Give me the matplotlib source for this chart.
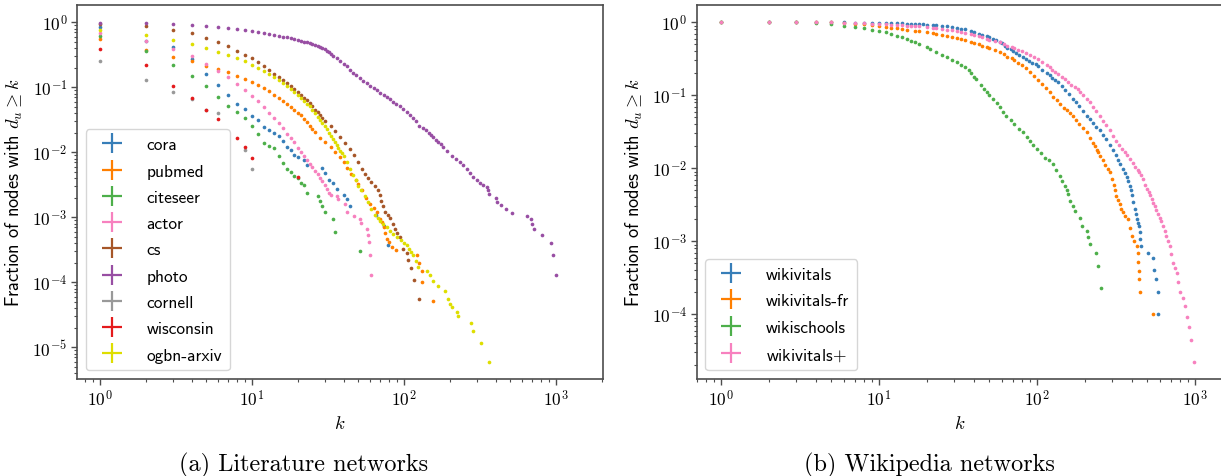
import matplotlib
matplotlib.use('Agg')
import matplotlib.pyplot as plt
from matplotlib.lines import Line2D
from matplotlib.ticker import FuncFormatter, LogLocator, NullFormatter
import numpy as np

plt.rcParams['mathtext.fontset'] = 'cm'
plt.rcParams['axes.unicode_minus'] = False

# ---------------- Literature networks ----------------
lit_names = ['cora', 'pubmed', 'citeseer', 'actor', 'cs', 'photo', 'cornell', 'wisconsin', 'ogbn-arxiv']
lit_colors = ['#377eb8', '#ff7f00', '#4daf4a', '#f781bf', '#a65628', '#984ea3', '#999999', '#e41a1c', '#dede00']

cora_k = [1, 2, 3, 4, 5, 6, 7, 8, 9, 10, 11, 12, 13, 14, 15, 16, 17, 18, 19, 20, 22, 23, 29, 30, 32, 34, 36, 40, 42, 44, 65, 74, 78]
cora_f = [0.85, 0.51, 0.417, 0.27, 0.158, 0.108, 0.077, 0.056, 0.0464, 0.0366, 0.031, 0.0244, 0.0224, 0.0200, 0.0179, 0.015, 0.0121, 0.0110, 0.0092, 0.0084, 0.0076, 0.0064, 0.0057, 0.0048, 0.0038, 0.0034, 0.0027, 0.0022, 0.0019, 0.0015, 0.0011, 0.00074, 0.00037]

pubmed_k = [1, 2, 3, 4, 5, 6, 7, 8, 9, 10, 11, 12, 13, 14, 15, 16, 17, 18, 19, 20, 21, 22, 23, 24, 25, 26, 28, 30, 33, 35, 38, 40, 42, 45, 48, 50, 53, 56, 60, 63, 66, 70, 72, 74, 75, 77, 80, 83, 88, 121, 126, 131, 132, 154]
pubmed_f = [0.55, 0.38, 0.296, 0.25, 0.215, 0.19, 0.17, 0.147, 0.134, 0.122, 0.108, 0.098, 0.087, 0.077, 0.069, 0.062, 0.055, 0.05, 0.045, 0.04, 0.037, 0.0326, 0.029, 0.0257, 0.0229, 0.0203, 0.0168, 0.0142, 0.012, 0.0100, 0.0084, 0.0071, 0.0058, 0.0046, 0.0037, 0.0032, 0.0026, 0.0020, 0.0016, 0.0014, 0.0012, 0.00095, 0.00085, 0.00072, 0.00057, 0.00046, 0.00041, 0.00035, 0.00031, 0.00026, 0.0002, 0.000151, 0.0001, 0.0000508]

citeseer_k = [1, 2, 3, 4, 5, 6, 7, 8, 9, 10, 11, 12, 13, 14, 15, 16, 17, 18, 19, 20, 21, 22, 23, 27, 28, 29, 30, 34, 35, 51]
citeseer_f = [0.61, 0.36, 0.22, 0.148, 0.104, 0.071, 0.052, 0.041, 0.0335, 0.025, 0.019, 0.0138, 0.0126, 0.0117, 0.0089, 0.0068, 0.0055, 0.0049, 0.0043, 0.0040, 0.0034, 0.0031, 0.0024, 0.0021, 0.0018, 0.0015, 0.0012, 0.00093, 0.0006, 0.0003]

actor_k = [1, 2, 3, 4, 5, 6, 7, 8, 9, 10, 11, 12, 13, 14, 15, 16, 17, 18, 19, 20, 21, 22, 23, 24, 25, 26, 27, 28, 29, 30, 31, 32, 33, 36, 37, 41, 42, 47, 51, 52, 57, 58, 59, 60, 61]
actor_f = [0.68, 0.51, 0.388, 0.30, 0.232, 0.18, 0.143, 0.111, 0.09, 0.074, 0.0605, 0.0495, 0.0405, 0.0335, 0.028, 0.0234, 0.0194, 0.0164, 0.0145, 0.0118, 0.0102, 0.0089, 0.0077, 0.0066, 0.0059, 0.0052, 0.0047, 0.0040, 0.0036, 0.0031, 0.0027, 0.0024, 0.0022, 0.0021, 0.0019, 0.0016, 0.0012, 0.00105, 0.00095, 0.00081, 0.00065, 0.00053, 0.00041, 0.00026, 0.00013]

cs_k = [1, 2, 3, 4, 5, 6, 7, 8, 9, 10, 11, 12, 13, 14, 15, 16, 17, 18, 19, 20, 21, 22, 23, 24, 25, 26, 27, 28, 29, 30, 33, 35, 38, 41, 44, 47, 50, 53, 55, 58, 61, 64, 67, 69, 71, 73, 75, 78, 81, 84, 87, 90, 94, 99, 105, 107, 112, 117, 125]
cs_f = [0.95, 0.88, 0.77, 0.68, 0.58, 0.50, 0.427, 0.366, 0.318, 0.283, 0.242, 0.213, 0.187, 0.162, 0.144, 0.128, 0.115, 0.106, 0.094, 0.086, 0.077, 0.069, 0.063, 0.0574, 0.051, 0.045, 0.041, 0.0375, 0.034, 0.0306, 0.0257, 0.0213, 0.017, 0.0139, 0.0112, 0.0092, 0.0072, 0.0056, 0.0047, 0.0040, 0.0035, 0.0030, 0.0026, 0.0022, 0.0018, 0.0015, 0.0012, 0.0011, 0.00098, 0.0008, 0.00066, 0.00057, 0.00049, 0.00033, 0.00028, 0.000224, 0.000166, 0.00011, 0.000055]

photo_k = [1, 2, 3, 4, 5, 6, 7, 8, 9, 10, 11, 12, 13, 14, 15, 16, 17, 18, 19, 20, 21, 22, 23, 24, 25, 26, 27, 28, 29, 30, 31, 32, 33, 34, 36, 38, 40, 42, 44, 46, 48, 51, 54, 57, 60, 63, 66, 70, 74, 77, 81, 85, 89, 94, 99, 104, 109, 115, 120, 126, 134, 140, 145, 150, 156, 162, 168, 174, 181, 193, 206, 220, 234, 245, 258, 270, 286, 300, 316, 330, 350, 357, 364, 401, 411, 435, 467, 516, 645, 688, 699, 716, 805, 927, 955, 995]
photo_f = [0.98, 0.97, 0.93, 0.91, 0.877, 0.85, 0.817, 0.79, 0.76, 0.735, 0.71, 0.685, 0.667, 0.645, 0.62, 0.60, 0.588, 0.574, 0.553, 0.54, 0.52, 0.503, 0.49, 0.475, 0.46, 0.443, 0.43, 0.412, 0.40, 0.385, 0.366, 0.345, 0.325, 0.307, 0.28, 0.257, 0.232, 0.21, 0.187, 0.166, 0.155, 0.137, 0.126, 0.116, 0.106, 0.098, 0.09, 0.082, 0.076, 0.070, 0.065, 0.060, 0.056, 0.052, 0.047, 0.042, 0.038, 0.0333, 0.030, 0.0257, 0.0234, 0.0217, 0.020, 0.0185, 0.017, 0.0157, 0.0145, 0.0132, 0.012, 0.0105, 0.0089, 0.008, 0.0072, 0.0063, 0.0055, 0.0048, 0.0042, 0.0038, 0.0034, 0.0031, 0.0029, 0.0026, 0.0023, 0.00199, 0.00173, 0.00152, 0.00133, 0.00118, 0.00105, 0.00093, 0.00079, 0.00066, 0.00053, 0.0004, 0.00026, 0.000131]

cornell_k = [1, 2, 3, 4, 5, 6, 9, 10]
cornell_f = [0.25, 0.129, 0.085, 0.066, 0.045, 0.040, 0.011, 0.0056]

wisconsin_k = [1, 2, 3, 4, 5, 6, 8, 9, 10, 20]
wisconsin_f = [0.39, 0.218, 0.106, 0.068, 0.045, 0.033, 0.0164, 0.0122, 0.0082, 0.0041]

arxiv_k = [1, 2, 3, 4, 5, 6, 7, 8, 9, 10, 11, 12, 13, 14, 15, 16, 17, 18, 19, 20, 21, 22, 23, 24, 25, 26, 27, 28, 29, 30, 31, 32, 33, 34, 35, 36, 37, 38, 39, 40, 42, 44, 46, 48, 50, 52, 55, 58, 61, 64, 67, 70, 73, 77, 81, 85, 90, 95, 100, 104, 108, 112, 115, 120, 124, 141, 148, 156, 168, 186, 195, 202, 206, 222, 226, 275, 286, 323, 364]
arxiv_f = [0.76, 0.63, 0.53, 0.46, 0.40, 0.353, 0.31, 0.279, 0.25, 0.223, 0.2, 0.18, 0.16, 0.146, 0.13, 0.116, 0.105, 0.094, 0.084, 0.076, 0.068, 0.062, 0.056, 0.051, 0.045, 0.040, 0.035, 0.031, 0.028, 0.025, 0.0229, 0.020, 0.018, 0.0162, 0.0145, 0.013, 0.0118, 0.0106, 0.0096, 0.0087, 0.0071, 0.0055, 0.0045, 0.0037, 0.0030, 0.0026, 0.0021, 0.0017, 0.00134, 0.0011, 0.00098, 0.00088, 0.00080, 0.00070, 0.00061, 0.00055, 0.00050, 0.00045, 0.0004, 0.00037, 0.00033, 0.00029, 0.00026, 0.00021, 0.00017, 0.000151, 0.00013, 0.000106, 0.000087, 0.000074, 0.000055, 0.0000466, 0.0000414, 0.0000354, 0.00003, 0.0000237, 0.0000178, 0.0000118, 0.000006]

lit_k = [cora_k, pubmed_k, citeseer_k, actor_k, cs_k, photo_k, cornell_k, wisconsin_k, arxiv_k]
lit_f = [cora_f, pubmed_f, citeseer_f, actor_f, cs_f, photo_f, cornell_f, wisconsin_f, arxiv_f]

# ---------------- Wikipedia networks ----------------
wiki_names = ['wikivitals', 'wikivitals-fr', 'wikischools', r'wikivitals$+$']
wiki_colors = ['#377eb8', '#ff7f00', '#4daf4a', '#f781bf']

wv_k = [1, 2, 3, 4, 5, 6, 7, 8, 9, 10, 11, 12, 13, 14, 15, 16, 17, 18, 19, 20, 22, 23, 25, 27, 29, 31, 33, 35, 38, 40, 43, 45, 48, 50, 53, 55, 58, 60, 63, 65, 68, 70, 74, 77, 81, 85, 89, 93, 98, 102, 108, 115, 120, 125, 130, 136, 143, 150, 160, 169, 177, 185, 195, 206, 215, 225, 238, 251, 263, 275, 290, 303, 315, 325, 337, 350, 360, 370, 378, 386, 393, 400, 408, 417, 423, 429, 436, 442, 450, 451, 452, 502, 543, 550, 569, 580, 585]
wv_f = [1.0, 1.0, 1.0, 0.999, 0.998, 0.996, 0.993, 0.99, 0.987, 0.983, 0.979, 0.975, 0.97, 0.965, 0.96, 0.955, 0.95, 0.945, 0.938, 0.93, 0.92, 0.91, 0.895, 0.88, 0.862, 0.845, 0.822, 0.80, 0.77, 0.74, 0.70, 0.68, 0.645, 0.62, 0.59, 0.57, 0.54, 0.52, 0.48, 0.45, 0.43, 0.41, 0.38, 0.36, 0.335, 0.31, 0.295, 0.28, 0.265, 0.25, 0.225, 0.20, 0.187, 0.175, 0.162, 0.15, 0.135, 0.12, 0.104, 0.09, 0.081, 0.072, 0.061, 0.052, 0.047, 0.042, 0.037, 0.033, 0.029, 0.025, 0.021, 0.018, 0.015, 0.013, 0.0115, 0.0098, 0.0086, 0.0075, 0.0066, 0.0058, 0.005, 0.0043, 0.0035, 0.0028, 0.0024, 0.002, 0.0018, 0.00163, 0.00133, 0.00108, 0.00085, 0.0007, 0.0006, 0.0004, 0.000306, 0.0002, 0.0001]

wvfr_k = [1, 2, 3, 4, 5, 6, 7, 8, 9, 10, 11, 12, 13, 14, 15, 17, 18, 20, 22, 23, 25, 27, 29, 31, 33, 35, 38, 40, 43, 45, 48, 50, 54, 58, 62, 65, 69, 72, 76, 80, 85, 90, 96, 102, 108, 114, 120, 126, 133, 140, 148, 155, 162, 169, 177, 185, 195, 206, 215, 225, 233, 240, 245, 251, 260, 270, 280, 290, 298, 305, 311, 317, 325, 335, 342, 350, 363, 377, 386, 400, 413, 427, 433, 436, 440, 442, 448, 543]
wvfr_f = [1.0, 1.0, 1.0, 1.0, 0.999, 0.98, 0.96, 0.935, 0.905, 0.88, 0.862, 0.845, 0.828, 0.81, 0.795, 0.77, 0.758, 0.735, 0.715, 0.70, 0.678, 0.655, 0.632, 0.61, 0.59, 0.57, 0.545, 0.52, 0.50, 0.48, 0.46, 0.44, 0.415, 0.39, 0.365, 0.34, 0.32, 0.30, 0.28, 0.26, 0.235, 0.21, 0.185, 0.16, 0.142, 0.125, 0.11, 0.095, 0.085, 0.075, 0.068, 0.062, 0.057, 0.052, 0.046, 0.041, 0.036, 0.031, 0.026, 0.022, 0.02, 0.018, 0.0165, 0.0149, 0.0128, 0.011, 0.0098, 0.0088, 0.0072, 0.006, 0.005, 0.0042, 0.0037, 0.0032, 0.0028, 0.0025, 0.0022, 0.002, 0.0015, 0.0012, 0.00101, 0.00085, 0.00069, 0.00052, 0.00039, 0.000306, 0.0002, 0.0001]

ws_k = [1, 2, 3, 4, 5, 6, 7, 8, 9, 10, 11, 12, 13, 14, 15, 16, 17, 18, 20, 21, 23, 25, 27, 29, 31, 33, 35, 37, 38, 40, 41, 44, 46, 48, 50, 53, 56, 58, 61, 64, 68, 72, 77, 82, 86, 90, 95, 100, 106, 112, 119, 126, 132, 139, 145, 151, 155, 158, 162, 168, 174, 187, 192, 207, 211, 216, 235, 244, 254]
ws_f = [1.0, 1.0, 1.0, 0.98, 0.95, 0.90, 0.86, 0.83, 0.785, 0.75, 0.73, 0.69, 0.655, 0.625, 0.59, 0.56, 0.53, 0.505, 0.455, 0.435, 0.39, 0.36, 0.33, 0.305, 0.285, 0.262, 0.242, 0.22, 0.20, 0.18, 0.167, 0.14, 0.122, 0.11, 0.10, 0.089, 0.078, 0.07, 0.06, 0.052, 0.046, 0.04, 0.035, 0.031, 0.027, 0.024, 0.021, 0.0182, 0.016, 0.014, 0.0128, 0.0115, 0.0095, 0.0079, 0.0068, 0.0057, 0.0050, 0.0044, 0.0036, 0.003, 0.0026, 0.0021, 0.0016, 0.00139, 0.00115, 0.00093, 0.00069, 0.00046, 0.000228]

wvp_k = [1, 2, 3, 4, 5, 6, 7, 8, 9, 10, 11, 12, 13, 14, 15, 16, 17, 18, 20, 22, 23, 25, 27, 29, 31, 33, 35, 38, 40, 43, 45, 48, 50, 54, 58, 62, 65, 69, 72, 76, 80, 85, 90, 96, 102, 108, 115, 120, 125, 130, 136, 143, 150, 158, 165, 173, 181, 188, 195, 206, 215, 225, 238, 251, 263, 275, 290, 303, 317, 330, 345, 360, 373, 386, 403, 420, 433, 445, 458, 470, 485, 500, 510, 520, 532, 543, 556, 570, 585, 600, 613, 627, 643, 660, 677, 694, 710, 727, 745, 764, 781, 803, 844, 870, 896, 917, 942, 983]
wvp_f = [1.0, 1.0, 1.0, 1.0, 0.999, 0.99, 0.985, 0.975, 0.96, 0.94, 0.935, 0.925, 0.918, 0.91, 0.903, 0.896, 0.89, 0.88, 0.86, 0.845, 0.83, 0.81, 0.79, 0.775, 0.76, 0.74, 0.72, 0.69, 0.67, 0.645, 0.62, 0.60, 0.58, 0.555, 0.53, 0.50, 0.48, 0.46, 0.44, 0.42, 0.40, 0.377, 0.355, 0.335, 0.314, 0.29, 0.26, 0.243, 0.225, 0.21, 0.196, 0.18, 0.165, 0.152, 0.14, 0.13, 0.122, 0.11, 0.10, 0.089, 0.08, 0.07, 0.061, 0.052, 0.045, 0.039, 0.033, 0.028, 0.024, 0.021, 0.0185, 0.0165, 0.015, 0.0134, 0.012, 0.0105, 0.0096, 0.0088, 0.008, 0.0071, 0.006, 0.0052, 0.0047, 0.0043, 0.0038, 0.0034, 0.003, 0.0027, 0.0024, 0.0021, 0.0019, 0.00163, 0.0014, 0.0012, 0.001, 0.00085, 0.00068, 0.00051, 0.00043, 0.00037, 0.00028, 0.0002, 0.000169, 0.000131, 0.0000925, 0.0000663, 0.0000447, 0.0000221]

wiki_k = [wv_k, wvfr_k, ws_k, wvp_k]
wiki_f = [wv_f, wvfr_f, ws_f, wvp_f]

# ---------------- figure ----------------
W, H = 1221, 477
fig = plt.figure(figsize=(W / 100, H / 100), dpi=100)


def box(x0, y0, x1, y1):
    return [x0 / W, 1 - y1 / H, (x1 - x0) / W, (y1 - y0) / H]


ax1 = fig.add_axes(box(77, 6, 603, 380))
ax2 = fig.add_axes(box(696.5, 6, 1222.5, 380))

spine_col = '#4d4d4d'


def style(ax):
    ax.set_xscale('log')
    ax.set_yscale('log')
    for s in ax.spines.values():
        s.set_color(spine_col)
        s.set_linewidth(1.2)
    fmt = FuncFormatter(lambda v, p: r'$10^{%d}$' % int(round(np.log10(v))))
    for axis in (ax.xaxis, ax.yaxis):
        axis.set_major_locator(LogLocator(base=10, numticks=30))
        axis.set_minor_locator(LogLocator(base=10, subs=np.arange(2, 10), numticks=30))
        axis.set_major_formatter(fmt)
        axis.set_minor_formatter(NullFormatter())
    ax.tick_params(which='major', length=4, width=1.0, color=spine_col, labelsize=12.5, pad=3)
    ax.tick_params(which='minor', length=2.2, width=0.8, color=spine_col)
    ax.set_xlabel(r'$k$', fontsize=13.5, labelpad=3)
    ax.set_ylabel(r'Fraction of nodes with $d_u \geq k$', fontfamily='cmss10', fontsize=13.2, labelpad=5)


def legend(ax, names, colors):
    handles = [Line2D([], [], color=c, marker='+', linestyle='None', markersize=14, markeredgewidth=1.6)
               for c in colors]
    ax.legend(handles, names, loc='lower left', prop={'family': 'cmss10', 'size': 12.5},
              handlelength=2.1, handletextpad=0.95, labelspacing=0.64, borderpad=0.45)


for k, f, c in zip(lit_k, lit_f, lit_colors):
    ax1.scatter(k, f, s=7, color=c, linewidths=0)
style(ax1)
ax1.set_xlim(0.706, 2037)
ax1.set_ylim(3.25e-6, 1.846)
legend(ax1, lit_names, lit_colors)

for k, f, c in zip(wiki_k, wiki_f, wiki_colors):
    ax2.scatter(k, f, s=7, color=c, linewidths=0)
style(ax2)
ax2.set_xlim(0.70, 1493)
ax2.set_ylim(1.3e-5, 1.726)
legend(ax2, wiki_names, wiki_colors)

fig.text(304 / W, 1 - 465 / H, '(a) Literature networks', ha='center', va='center',
         fontfamily='cmr10', fontsize=17.5)
fig.text(929 / W, 1 - 465 / H, '(b) Wikipedia networks', ha='center', va='center',
         fontfamily='cmr10', fontsize=17.5)

fig.savefig('out.png', dpi=100)
